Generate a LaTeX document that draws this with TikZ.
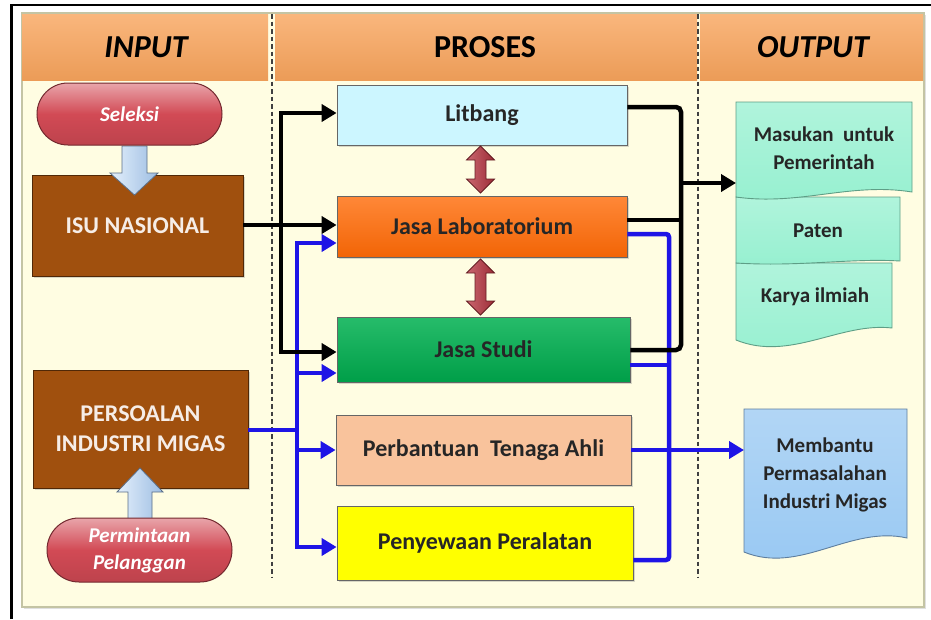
\documentclass[tikz,border=0pt]{standalone}
\usepackage{fontspec}
\setmainfont{Carlito}
\usetikzlibrary{arrows.meta,shadows,calc}
\definecolor{hdr}{HTML}{F8A45C}
\definecolor{cream}{HTML}{FFFDE2}
\definecolor{litc}{HTML}{CCF6FF}
\definecolor{labc}{HTML}{FF6A06}
\definecolor{stuc}{HTML}{00B050}
\definecolor{perc}{HTML}{F9C39C}
\definecolor{penc}{HTML}{FFFF00}
\definecolor{brownc}{HTML}{A0500E}
\definecolor{pillc}{HTML}{D24A55}
\definecolor{tealc}{HTML}{96F0D0}
\definecolor{tealb}{HTML}{5E9E86}
\definecolor{skyc}{HTML}{98C8F2}
\definecolor{skyb}{HTML}{5E7E9E}
\definecolor{bluel}{HTML}{1E14E6}
\definecolor{dred}{HTML}{B83440}
\definecolor{fatl}{HTML}{E4F0FC}
\definecolor{fatd}{HTML}{9DBDE2}
\definecolor{fatb}{HTML}{5A6E88}
\definecolor{framec}{HTML}{C4C4A4}
\begin{document}
\begin{tikzpicture}[x=1pt,y=-1pt,
  hdrtext/.style={font=\fontsize{32}{36}\selectfont\bfseries, text=black},
  pbox/.style={draw=black!60, line width=0.8pt, inner sep=0pt,
    font=\fontsize{24}{28}\selectfont\bfseries, text=black!85,
    drop shadow={opacity=0.3,shadow xshift=2pt,shadow yshift=-2pt}},
  bbox/.style={draw=brownc!50!black, line width=0.8pt, fill=brownc, inner sep=0pt,
    align=center, text=white!90!brownc, font=\fontsize{24}{30}\selectfont\bfseries,
    drop shadow={opacity=0.3,shadow xshift=2pt,shadow yshift=-2pt}},
  pill/.style={draw=pillc!55!black, line width=1pt, top color=pillc!50!white,
    bottom color=pillc!90!black, middle color=pillc, inner sep=0pt, align=center,
    text=white, font=\fontsize{21}{27}\selectfont\bfseries\itshape},
  doctext/.style={align=center, text=black!85, font=\fontsize{21}{28}\selectfont\bfseries},
  tealdoc/.style={draw=tealb, line width=0.9pt, top color=tealc!75!white, bottom color=tealc},
  skydoc/.style={draw=skyb, line width=0.9pt, top color=skyc!75!white, bottom color=skyc},
  blk/.style={line width=4.5pt, black},
  blu/.style={line width=4.5pt, bluel},
  tip/.style={-{Triangle[length=15pt,width=17pt]}},
  dtip/.style={{Triangle[length=15pt,width=17pt]}-{Triangle[length=15pt,width=17pt]}},
  fatarrow/.style={draw=fatb, line width=0.8pt, left color=fatl, right color=fatd},
  redarrow/.style={draw=dred!55!black, line width=0.8pt, left color=dred!75!white, right color=dred!85!black},
  dashsep/.style={draw=black!75, line width=1.5pt, dash pattern=on 4.5pt off 3pt}
]
\useasboundingbox (0,0) rectangle (931,619);
\fill[white] (0,0) rectangle (931,619);
% outer frame
\draw[line width=2.5pt, black] (11.5,619) -- (11.5,5) -- (931,5);
% cream panel
\fill[black!12] (24,15) rectangle (926,609);
\draw[fill=cream, draw=framec, line width=1.5pt] (22,13) rectangle (924,607);
% header bands
\fill[top color=hdr!80!white, bottom color=hdr!95!black] (22,14) rectangle (268,80);
\fill[top color=hdr!80!white, bottom color=hdr!95!black] (275,14) rectangle (697,80);
\fill[top color=hdr!80!white, bottom color=hdr!95!black] (700,14) rectangle (923,80);
\node[hdrtext, font=\fontsize{32}{36}\selectfont\bfseries\itshape] (hin) at (146,47) {INPUT};
\node[hdrtext] (hpr) at (485,47) {PROSES};
\node[hdrtext, font=\fontsize{32}{36}\selectfont\bfseries\itshape] (hout) at (813,47) {OUTPUT};
% dashed separators
\draw[dashsep] (272,14) -- (272,578);
\draw[dashsep] (698,14) -- (698,578);

% process boxes
\node[pbox, fill=litc, minimum width=290, minimum height=60] (lit) at (482,115) {Litbang};
\node[pbox, top color=labc!80!white, bottom color=labc!95!black, minimum width=290, minimum height=61] (lab) at (482,226.5) {Jasa Laboratorium};
\node[pbox, top color=stuc!85!white, bottom color=stuc!90!black, minimum width=293, minimum height=65] (stu) at (483.5,349.5) {Jasa Studi};
\node[pbox, fill=perc, minimum width=295, minimum height=70] (perb) at (483.5,450) {Perbantuan\ \ Tenaga Ahli};
\node[pbox, fill=penc, minimum width=296, minimum height=74] (peny) at (485,543) {Penyewaan Peralatan};

% input boxes
\node[bbox, minimum width=211, minimum height=101] (isu) at (137.5,225.5) {ISU NASIONAL};
\node[bbox, minimum width=215, minimum height=118] (pers) at (140.5,429) {PERSOALAN\\INDUSTRI MIGAS};

% fat arrows (input)
\path[fatarrow] (122,146) -- (147,146) -- (147,173) -- (158,173) -- (134.5,195) -- (110,173) -- (122,173) -- cycle;
\path[fatarrow] (128,520) -- (152,520) -- (152,492) -- (163,492) -- (140,468) -- (117,492) -- (128,492) -- cycle;

\node[pill, rounded corners=31pt, minimum width=185, minimum height=62] (sel) at (129.5,114) {Seleksi};
\node[pill, rounded corners=32pt, minimum width=185, minimum height=64] (perm) at (139.5,550) {Permintaan\\Pelanggan};

% red double arrows
\path[redarrow] (480.5,146) -- (494.5,160) -- (486,160) -- (486,179) -- (494.5,179) -- (480.5,193) -- (466.5,179) -- (475,179) -- (475,160) -- (466.5,160) -- cycle;
\path[redarrow] (480.5,259) -- (494.5,273) -- (486,273) -- (486,301) -- (494.5,301) -- (480.5,315) -- (466.5,301) -- (475,301) -- (475,273) -- (466.5,273) -- cycle;

% output documents
\path[tealdoc] (736,263) -- (892,263) -- (892,328) .. controls (840,322) and (790,362) .. (736,340) -- cycle;
\path[tealdoc] (736,197) -- (900,197) -- (900,261) .. controls (850,258) and (800,267) .. (736,263) -- cycle;
\path[tealdoc] (736,102) -- (912,102) -- (912,192) .. controls (850,182) and (800,206) .. (736,197) -- cycle;
\path[skydoc] (744,409) -- (907,409) -- (907,538) .. controls (850,525) and (800,575) .. (744,552) -- cycle;
\node[doctext] (mas) at (824,148) {Masukan\ \ untuk\\Pemerintah};
\node[doctext] (pat) at (818,231) {Paten};
\node[doctext] (kar) at (815,297) {Karya ilmiah};
\node[doctext] (mem) at (825,475) {Membantu\\Permasalahan\\Industri Migas};
\coordinate (masin) at (736,183);
\coordinate (memin) at (744,450);

% blue connectors (left)
\draw[blu] (pers.east |- 0,430) -- (297,430);
\draw[blu, dtip] (lab.west |- 0,243) -- (297,243) -- (297,547) -- (peny.west |- 0,547);
\draw[blu, tip] (297,373) -- (stu.west |- 0,373);
\draw[blu, tip] (297,450) -- (perb.west);
% blue connectors (right)
\draw[blu, rounded corners=3pt] (lab.east |- 0,234) -- (669,234) -- (669,560) -- (peny.east |- 0,560);
\draw[blu] (stu.east |- 0,365) -- (669,365);
\draw[blu, tip] (perb.east) -- (memin);

% black connectors (left)
\draw[blk, tip] (isu.east |- 0,225) -- (lab.west |- 0,225);
\draw[blk, dtip] (lit.west |- 0,113) -- (281,113) -- (281,352) -- (stu.west |- 0,352);
% black connectors (right)
\draw[blk, rounded corners=5pt] (lit.east |- 0,107) -- (681,107) -- (681,350) -- (stu.east |- 0,350);
\draw[blk] (lab.east |- 0,220) -- (681,220);
\draw[blk, tip] (679,183) -- (masin);
\end{tikzpicture}
\end{document}
